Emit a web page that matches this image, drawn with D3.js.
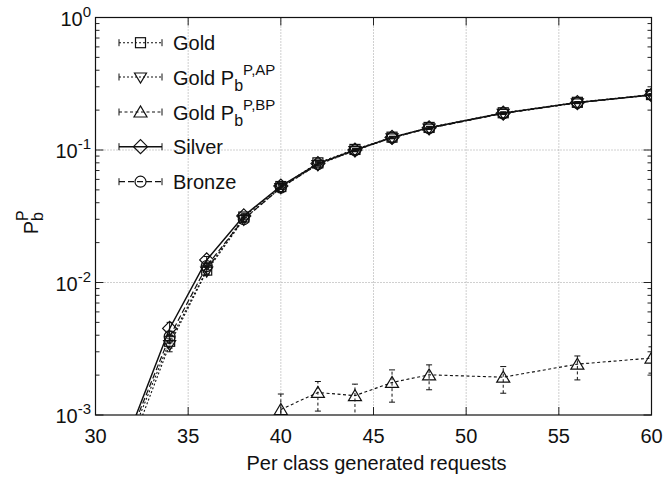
<!DOCTYPE html>
<html>
<head>
<meta charset="utf-8">
<script src="https://cdn.jsdelivr.net/npm/d3@7"></script>
<style>
  body { margin: 0; background: #fff; }
  text { font-family: "Liberation Sans", Arial, Helvetica, sans-serif; fill: #111; }
</style>
</head>
<body>
<div id="chart"></div>
<script>
(function() {
    'use strict';

    // requests per class (x)
    var requests = [32, 34, 36, 38, 40, 42, 44, 46, 48, 52, 56, 60];

    // blocking probabilities (32 lies below the axis)
    var gold    = [0.00073, 0.0036, 0.0124, 0.0312, 0.0530, 0.0800, 0.1010, 0.1250, 0.1480, 0.1910, 0.2290, 0.2620];
    var goldAP  = [0.00063, 0.0034, 0.0122, 0.0300, 0.0520, 0.0775, 0.0990, 0.1235, 0.1460, 0.1890, 0.2270, 0.2600];
    var silver  = [0.00085, 0.0045, 0.0148, 0.0318, 0.0535, 0.0790, 0.1000, 0.1245, 0.1470, 0.1900, 0.2280, 0.2600];
    var bronze  = [0.00079, 0.0039, 0.0133, 0.0300, 0.0520, 0.0780, 0.0995, 0.1240, 0.1460, 0.1890, 0.2270, 0.2610];
    var errGold   = [0.0001, 0.0004, 0.0008, 0.0012, 0.0015, 0.002, 0.002, 0.002, 0.003, 0.003, 0.003, 0.004];
    var errAP     = [0.0001, 0.0004, 0.0008, 0.0012, 0.0015, 0.002, 0.002, 0.002, 0.003, 0.003, 0.003, 0.004];
    var errSilver = [0.0001, 0.0005, 0.0009, 0.0012, 0.0015, 0.002, 0.002, 0.002, 0.003, 0.003, 0.003, 0.004];
    var errBronze = [0.0001, 0.0004, 0.0008, 0.0012, 0.0015, 0.002, 0.002, 0.002, 0.003, 0.003, 0.003, 0.004];

    // gold P,BP only shows from 40 on
    var bpRequests = [40, 42, 44, 46, 48, 52, 56, 60];
    var goldBP     = [0.00110, 0.00148, 0.00140, 0.00176, 0.00201, 0.00193, 0.00242, 0.00269];
    var goldBPLow  = [0.00085, 0.00107, 0.00095, 0.00125, 0.00155, 0.00146, 0.00184, 0.00207];
    var goldBPHigh = [0.00144, 0.00179, 0.00171, 0.00219, 0.00239, 0.00232, 0.00279, 0.00327];

    var xTicks = [30, 35, 40, 45, 50, 55, 60];
    var yTicks = [1e-3, 1e-2, 1e-1, 1];
    var yExps  = ['-3', '-2', '-1', '0'];

    var width = 665, height = 478;
    var left = 95.5, right = 651.5, top = 17.5, bottom = 415;

    var x = d3.scaleLinear().domain([30, 60]).range([left, right]);
    var y = d3.scaleLog().domain([1e-3, 1]).range([bottom, top]);

    var svg = d3.select('#chart').append('svg')
        .attr('width', width)
        .attr('height', height);

    svg.append('rect').attr('width', width).attr('height', height).attr('fill', 'white');

    svg.append('clipPath').attr('id', 'plot')
      .append('rect')
        .attr('x', left).attr('y', top)
        .attr('width', right - left).attr('height', bottom - top);

    // grid
    var grid = svg.append('g')
        .attr('stroke', '#888')
        .attr('stroke-width', 0.8)
        .attr('stroke-dasharray', '1,2');
    xTicks.slice(1, -1).forEach(function(t) {
        grid.append('line').attr('x1', x(t)).attr('x2', x(t)).attr('y1', top).attr('y2', bottom);
    });
    yTicks.slice(1, -1).forEach(function(t) {
        grid.append('line').attr('x1', left).attr('x2', right).attr('y1', y(t)).attr('y2', y(t));
    });

    // ticks, all four sides, inward
    var ticks = svg.append('g').attr('stroke', '#222').attr('stroke-width', 1);
    xTicks.forEach(function(t) {
        ticks.append('line').attr('x1', x(t)).attr('x2', x(t)).attr('y1', bottom).attr('y2', bottom - 8);
        ticks.append('line').attr('x1', x(t)).attr('x2', x(t)).attr('y1', top).attr('y2', top + 8);
    });
    y.ticks().forEach(function(t) {
        var major = yTicks.some(function(m) { return Math.abs(m - t) < m * 1e-6; });
        var len = major ? 8 : 4;
        ticks.append('line').attr('x1', left).attr('x2', left + len).attr('y1', y(t)).attr('y2', y(t));
        ticks.append('line').attr('x1', right).attr('x2', right - len).attr('y1', y(t)).attr('y2', y(t));
    });

    // tick labels
    xTicks.forEach(function(t) {
        svg.append('text')
            .attr('x', x(t)).attr('y', 443)
            .attr('text-anchor', 'middle')
            .attr('font-size', 20)
            .text(t);
    });
    yTicks.forEach(function(t, i) {
        var txt = svg.append('text')
            .attr('x', 91).attr('y', y(t) + 8)
            .attr('text-anchor', 'end')
            .attr('font-size', 20);
        txt.append('tspan').text('10');
        txt.append('tspan').attr('dy', -9).attr('font-size', 15).text(yExps[i]);
    });

    // axis titles
    svg.append('text')
        .attr('x', (left + right) / 2 + 3).attr('y', 470)
        .attr('text-anchor', 'middle')
        .attr('font-size', 20)
        .text('Per class generated requests');

    var ylab = svg.append('text')
        .attr('transform', 'translate(38,' + ((top + bottom) / 2 + 18) + ') rotate(-90)')
        .attr('font-size', 20);
    ylab.append('tspan').text('P');
    ylab.append('tspan').attr('dy', 5).attr('font-size', 16).text('b');
    ylab.append('tspan').attr('dy', -15).attr('dx', -9).attr('font-size', 16).text('P');

    // marker shapes
    function marker(g, kind, cx, cy) {
        var p;
        if (kind === 'square') {
            p = g.append('rect').attr('x', cx - 5).attr('y', cy - 5).attr('width', 10).attr('height', 10);
        } else if (kind === 'down') {
            p = g.append('path').attr('d', 'M' + (cx - 6) + ',' + (cy - 4) + 'L' + (cx + 6) + ',' + (cy - 4) + 'L' + cx + ',' + (cy + 6) + 'Z');
        } else if (kind === 'up') {
            p = g.append('path').attr('d', 'M' + (cx - 6.5) + ',' + (cy + 5) + 'L' + (cx + 6.5) + ',' + (cy + 5) + 'L' + cx + ',' + (cy - 6) + 'Z');
        } else if (kind === 'diamond') {
            p = g.append('path').attr('d', 'M' + (cx - 7) + ',' + cy + 'L' + cx + ',' + (cy - 7) + 'L' + (cx + 7) + ',' + cy + 'L' + cx + ',' + (cy + 7) + 'Z');
        } else {
            p = g.append('circle').attr('cx', cx).attr('cy', cy).attr('r', 5.5);
        }
        p.attr('fill', 'none').attr('stroke', '#111').attr('stroke-width', 1.2);
    }

    function band(vals, errs, sign) {
        return vals.map(function(v, i) { return v + sign * errs[i]; });
    }

    var series = [
        { name: 'Gold', xs: requests, ys: gold, lo: band(gold, errGold, -1), hi: band(gold, errGold, 1), mark: 'square', dash: '2,2', w: 1.1 },
        { name: 'AP', xs: requests, ys: goldAP, lo: band(goldAP, errAP, -1), hi: band(goldAP, errAP, 1), mark: 'down', dash: '2,2', w: 1.1 },
        { name: 'BP', xs: bpRequests, ys: goldBP, lo: goldBPLow, hi: goldBPHigh, mark: 'up', dash: '3,2.5', w: 1.1 },
        { name: 'Silver', xs: requests, ys: silver, lo: band(silver, errSilver, -1), hi: band(silver, errSilver, 1), mark: 'diamond', dash: null, w: 1.5 },
        { name: 'Bronze', xs: requests, ys: bronze, lo: band(bronze, errBronze, -1), hi: band(bronze, errBronze, 1), mark: 'circle', dash: '6,3', w: 1.2 }
    ];

    var plot = svg.append('g').attr('clip-path', 'url(#plot)');
    var line = d3.line().x(function(d) { return x(d[0]); }).y(function(d) { return y(d[1]); });

    series.forEach(function(s) {
        var pts = s.xs.map(function(v, i) { return [v, s.ys[i]]; });
        plot.append('path')
            .attr('d', line(pts))
            .attr('fill', 'none')
            .attr('stroke', '#111')
            .attr('stroke-width', s.w)
            .attr('stroke-dasharray', s.dash);
        var g = plot.append('g');
        s.xs.forEach(function(v, i) {
            if (s.ys[i] < 1e-3) return;
            var lo = Math.max(s.lo[i], 5e-4);
            g.append('line')
                .attr('x1', x(v)).attr('x2', x(v))
                .attr('y1', y(lo)).attr('y2', y(s.hi[i]))
                .attr('stroke', '#111').attr('stroke-width', 1)
                .attr('stroke-dasharray', s.dash);
            [lo, s.hi[i]].forEach(function(e) {
                g.append('line')
                    .attr('x1', x(v) - 3).attr('x2', x(v) + 3)
                    .attr('y1', y(e)).attr('y2', y(e))
                    .attr('stroke', '#111').attr('stroke-width', 1);
            });
            marker(g, s.mark, x(v), y(s.ys[i]));
        });
    });

    // frame
    svg.append('rect')
        .attr('x', left).attr('y', top)
        .attr('width', right - left).attr('height', bottom - top)
        .attr('fill', 'none').attr('stroke', '#111').attr('stroke-width', 1.2);

    // legend
    var legendY = [42.7, 77, 112, 146.7, 181.7];
    series.forEach(function(s, i) {
        var ly = legendY[i];
        var g = svg.append('g');
        g.append('line').attr('x1', 119).attr('x2', 162).attr('y1', ly).attr('y2', ly)
            .attr('stroke', '#111').attr('stroke-width', s.w).attr('stroke-dasharray', s.dash);
        [119, 162].forEach(function(cx) {
            g.append('line').attr('x1', cx).attr('x2', cx).attr('y1', ly - 3.5).attr('y2', ly + 3.5)
                .attr('stroke', '#111').attr('stroke-width', 1);
        });
        marker(g, s.mark, 140.5, ly);
        var t = g.append('text').attr('x', 173).attr('y', ly + 7.5).attr('font-size', 20);
        if (s.name === 'AP' || s.name === 'BP') {
            t.append('tspan').text('Gold P');
            t.append('tspan').attr('dy', 6).attr('font-size', 16).text('b');
            t.append('tspan').attr('dy', -16).attr('font-size', 15).text('P,' + s.name);
        } else {
            t.text(s.name);
        }
    });
}());
</script>
</body>
</html>
